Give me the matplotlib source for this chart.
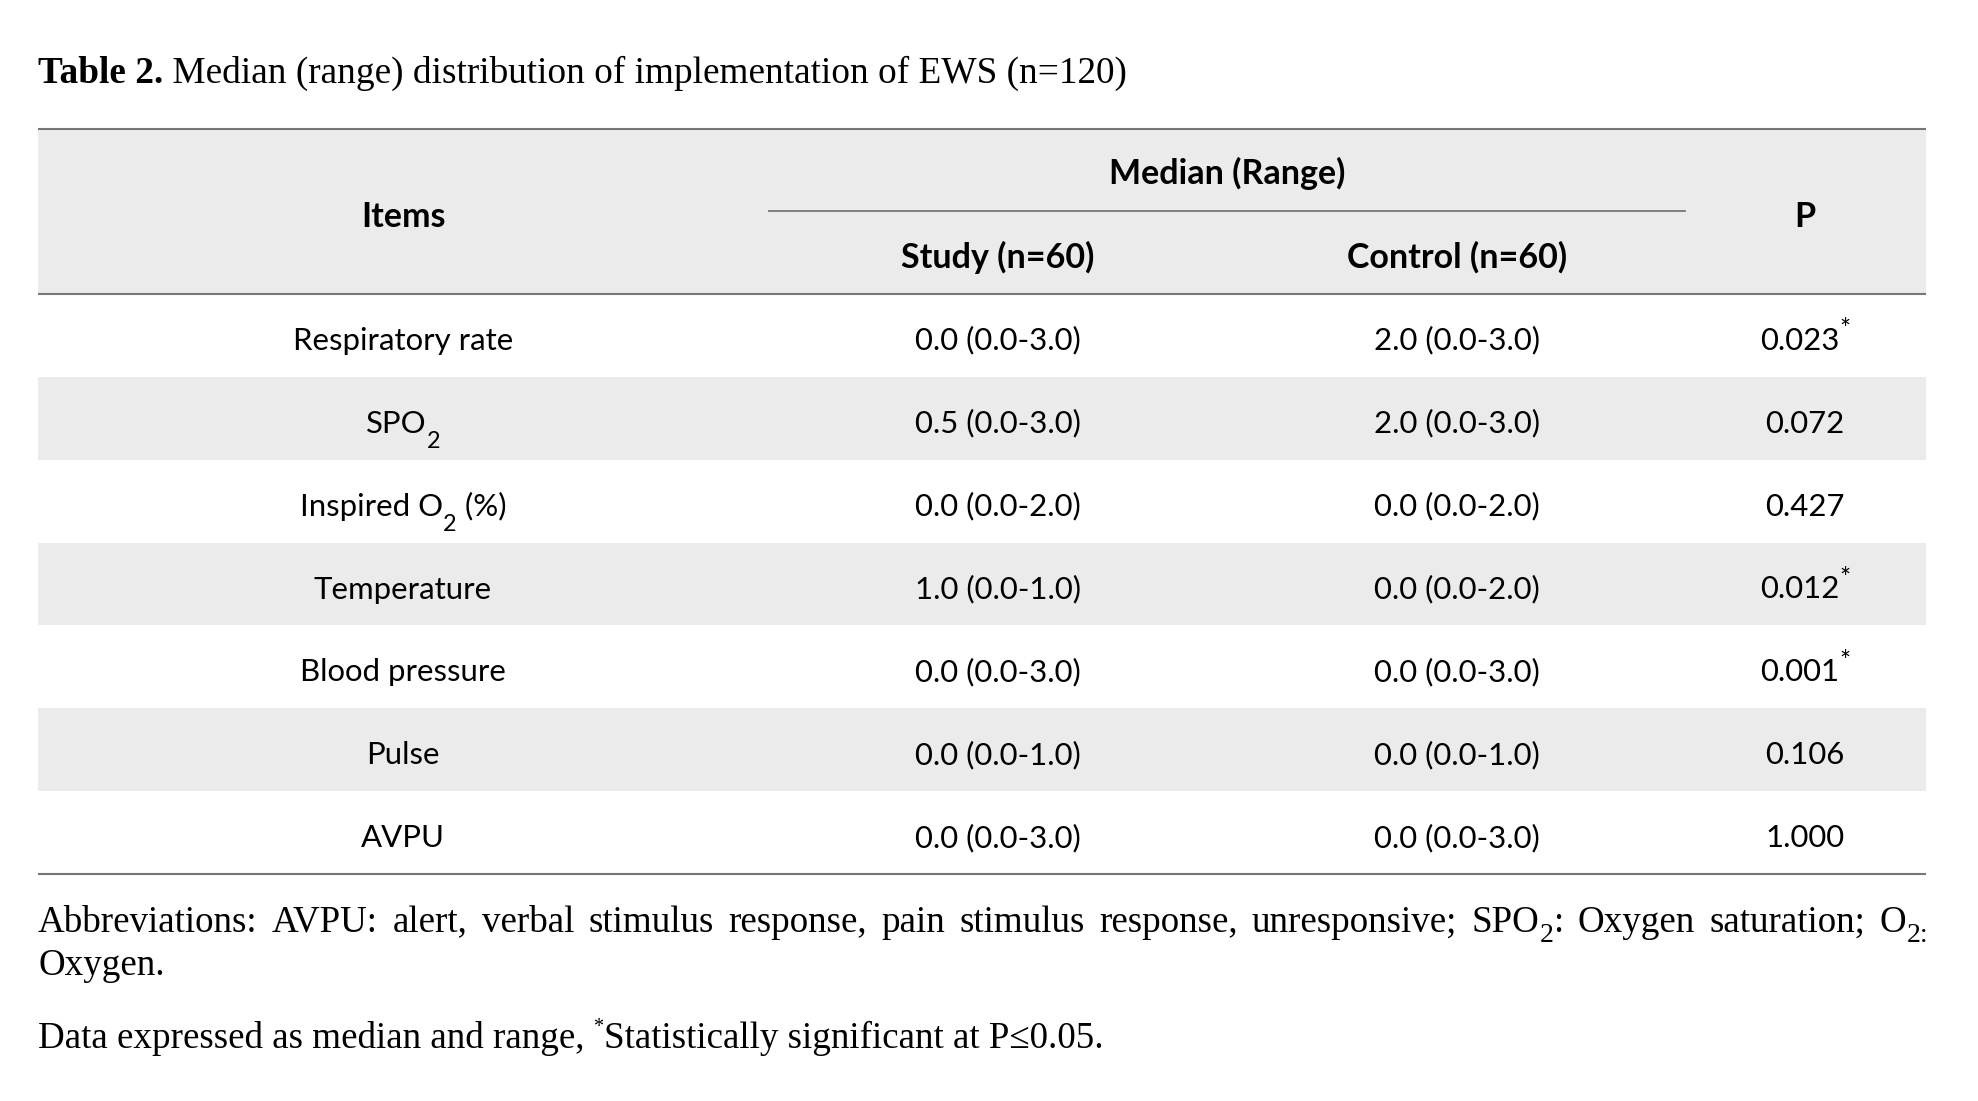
import re
import matplotlib.pyplot as plt
from matplotlib.patches import Rectangle

# table content
items = ["Respiratory rate", "SPO_{2}", "Inspired O_{2} (%)", "Temperature",
         "Blood pressure", "Pulse", "AVPU"]
study_median = [0.0, 0.5, 0.0, 1.0, 0.0, 0.0, 0.0]
study_min = [0.0, 0.0, 0.0, 0.0, 0.0, 0.0, 0.0]
study_max = [3.0, 3.0, 2.0, 1.0, 3.0, 1.0, 3.0]
control_median = [2.0, 2.0, 0.0, 0.0, 0.0, 0.0, 0.0]
control_min = [0.0, 0.0, 0.0, 0.0, 0.0, 0.0, 0.0]
control_max = [3.0, 3.0, 2.0, 2.0, 3.0, 1.0, 3.0]
p_values = [0.023, 0.072, 0.427, 0.012, 0.001, 0.106, 1.000]
alpha = 0.05

title_bold = "Table 2."
title_rest = " Median (range) distribution of implementation of EWS (n=120)"
header_items = "Items"
header_group = "Median (Range)"
header_study = "Study (n=60)"
header_control = "Control (n=60)"
header_p = "P"
note_abbrev = ("Abbreviations: AVPU: alert, verbal stimulus response, pain stimulus "
               "response, unresponsive; SPO_{2}: Oxygen saturation; O_{2:}")
note_abbrev2 = "Oxygen."
note_data = "Data expressed as median and range, ^{*}Statistically significant at P\u22640.05."

SERIF = "Liberation Serif"
SANS = "Lato"
BODY_SIZE = 22.4
HEAD_SIZE = 24.5
GRAY_BG = "#ebebeb"
RULE = "#777777"

W, H = 1978, 1101
fig = plt.figure(figsize=(W / 100, H / 100), dpi=100)
ax = fig.add_axes([0, 0, 1, 1])
ax.set_xlim(0, W)
ax.set_ylim(H, 0)
ax.axis("off")
renderer = fig.canvas.get_renderer()


def measure(s, **kw):
    t = ax.text(0, 0, s, **kw)
    w = t.get_window_extent(renderer).width
    t.remove()
    return w


def seg_width(s, **kw):
    # bars around the text so leading/trailing spaces count
    return measure("|" + s + "|", **kw) - measure("||", **kw)


def parse(s):
    out = []
    for part in re.split(r"(_\{[^}]*\}|\^\{[^}]*\})", s):
        if not part:
            continue
        if part.startswith("_{"):
            out.append((part[2:-1], "sub"))
        elif part.startswith("^{"):
            out.append((part[2:-1], "sup"))
        else:
            out.append((part, "n"))
    return out


# size factor and baseline shift (in em) for sub/superscripts, per family
STYLE = {
    SANS: {"n": (1.0, 0.0), "sub": (0.75, 0.48), "sup": (0.85, -0.38)},
    SERIF: {"n": (1.0, 0.0), "sub": (0.75, 0.28), "sup": (0.55, -0.42)},
}


def runs_width(runs, size, family, weight="normal"):
    st = STYLE[family]
    return sum(seg_width(t, fontsize=size * st[k][0], family=family, weight=weight)
               for t, k in runs)


def draw_runs(x, y, runs, size, family, weight="normal", ha="center"):
    st = STYLE[family]
    total = runs_width(runs, size, family, weight)
    x0 = x - total / 2 if ha == "center" else x
    em = size * 100 / 72
    for t, k in runs:
        scale, shift = st[k]
        ax.text(x0, y + shift * em, t, fontsize=size * scale, family=family,
                weight=weight, ha="left", va="baseline", color="black")
        x0 += seg_width(t, fontsize=size * scale, family=family, weight=weight)
    return total


def fit_size(s, target, family, base=20):
    return base * target / runs_width(parse(s), base, family)


# geometry
left, right = 38, 1926
top_rule = 129
head_bot = 294
row_h = (874 - head_bot) / len(items)
col_x = [403, 998, 1457, 1805]

# backgrounds
ax.add_patch(Rectangle((left, top_rule), right - left, head_bot - top_rule,
                       facecolor=GRAY_BG, lw=0, zorder=0))
for i in range(len(items)):
    if i % 2 == 1:
        ax.add_patch(Rectangle((left, head_bot + i * row_h), right - left, row_h,
                               facecolor=GRAY_BG, lw=0, zorder=0))

bottom_rule = head_bot + len(items) * row_h
for yy in (top_rule, head_bot, bottom_rule):
    ax.plot([left, right], [yy, yy], color=RULE, lw=1.5, solid_capstyle="butt", zorder=2)
ax.plot([768, 1686], [211, 211], color="#808080", lw=1.4, solid_capstyle="butt", zorder=2)

# title
title_size = fit_size(title_bold + title_rest, 1083, SERIF)
bw = draw_runs(left, 83, [(title_bold, "n")], title_size, SERIF, weight="bold", ha="left")
draw_runs(left + bw, 83, [(title_rest, "n")], title_size, SERIF, ha="left")

# header
draw_runs(col_x[0], 227, parse(header_items), HEAD_SIZE, SANS, weight="bold")
draw_runs(col_x[3], 227, parse(header_p), HEAD_SIZE, SANS, weight="bold")
draw_runs((col_x[1] + col_x[2]) / 2, 184, parse(header_group), HEAD_SIZE, SANS, weight="bold")
draw_runs(col_x[1], 268, parse(header_study), HEAD_SIZE, SANS, weight="bold")
draw_runs(col_x[2], 268, parse(header_control), HEAD_SIZE, SANS, weight="bold")

# body
for i, name in enumerate(items):
    yb = head_bot + i * row_h + row_h / 2 + 14.5
    study = f"{study_median[i]:.1f} ({study_min[i]:.1f}-{study_max[i]:.1f})"
    control = f"{control_median[i]:.1f} ({control_min[i]:.1f}-{control_max[i]:.1f})"
    p = f"{p_values[i]:.3f}" + ("^{*}" if p_values[i] <= alpha else "")
    for cx, s in zip(col_x, [name, study, control, p]):
        draw_runs(cx, yb, parse(s), BODY_SIZE, SANS)

# footnotes, first line justified to the table width
note_size = fit_size(note_data, 1068, SERIF)
words = [parse(w) for w in note_abbrev.split(" ")]
widths = [runs_width(w, note_size, SERIF) for w in words]
gap = (right + 2 - left - sum(widths)) / (len(words) - 1)
x = left
for w, ww in zip(words, widths):
    draw_runs(x, 932, w, note_size, SERIF, ha="left")
    x += ww + gap
draw_runs(left, 975, parse(note_abbrev2), note_size, SERIF, ha="left")
draw_runs(left, 1048, parse(note_data), note_size, SERIF, ha="left")

fig.savefig("out.png", dpi=100, facecolor="white")
